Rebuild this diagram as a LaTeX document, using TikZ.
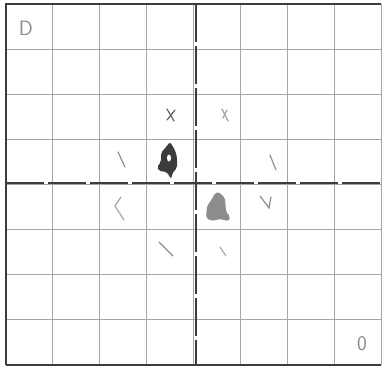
\documentclass[tikz,border=0pt]{standalone}
\usepackage{tikz}
\definecolor{pencil}{RGB}{60, 60, 60}
\definecolor{faint}{RGB}{165, 165, 165}
\definecolor{soft}{RGB}{140, 140, 140}
\tikzset{
    gridline/.style={draw=faint, line width=1pt},
    axisline/.style={draw=pencil, line width=1.6pt, dash pattern=on 38pt off 4pt},
    frameline/.style={draw=pencil, line width=2pt},
    tick/.style={draw=soft, line width=1.2pt, line cap=round},
    label/.style={text=soft, font=\sffamily\huge, inner sep=0pt}
}
\begin{document}
\begin{tikzpicture}[x=1pt, y=-1pt]
    \useasboundingbox (0,0) rectangle (384,367);
    % board
    \foreach \i in {1,...,7} {
      \draw[gridline] ({6+46.9*\i},4) -- ({6+46.9*\i},365);
      \draw[gridline] (6,{4+45.1*\i}) -- (381,{4+45.1*\i});
    }
    \draw[axisline] (196,4) -- (196,365);
    \draw[axisline] (6,183) -- (381,183);
    \draw[frameline] (6,365) -- (6,4) -- (381,4);
    \draw[frameline] (6,365) -- (381,365);
    \draw[gridline] (381,4) -- (381,365);

    % pieces
    \fill[pencil, rounded corners=2pt] (170,142) -- (175,150) -- (177,157) -- (177,168)
      -- (173,172) -- (171,179) -- (167,172) -- (159,171) -- (157,167) -- (161,162)
      -- (161,153) -- (166,147) -- cycle;
    \fill[white] (169,158) ellipse (2pt and 3.5pt);
    \fill[soft, rounded corners=2pt] (219,192) -- (225,198) -- (226,212) -- (230,216)
      -- (229,221) -- (220,219) -- (212,221) -- (206,218) -- (207,206) -- (212,199)
      -- (215,193) -- cycle;

    % marks
    \draw[tick, pencil!80] (167,109) -- (174,121) (175,110) -- (167,120);
    \draw[tick, faint] (222,109) -- (228,121) (227,110) -- (223,118);
    \draw[tick] (118,152) -- (125,167);
    \draw[tick] (270,155) -- (276,170);
    \draw[tick, faint] (121,197) -- (115,206) -- (124,220);
    \draw[tick] (260,196) -- (269,208) -- (271,197);
    \draw[tick] (159,242) -- (173,256);
    \draw[tick, faint] (220,247) -- (226,256);

    % corner letters
    \node[label] (dee) at (26,28) {D};
    \node[label] (zero) at (362,344) {0};
\end{tikzpicture}
\end{document}
